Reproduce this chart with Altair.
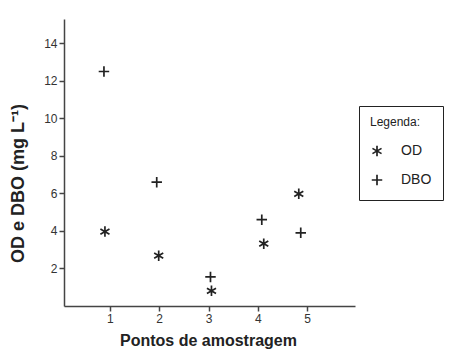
import altair as alt
import pandas as pd

# Data
pontos = [1, 2, 3, 4, 5]
x_od = [0.90, 1.99, 3.06, 4.12, 4.83]
y_od = [3.97, 2.68, 0.81, 3.32, 5.98]
x_dbo = [0.88, 1.95, 3.04, 4.08, 4.87]
y_dbo = [12.5, 6.6, 1.55, 4.6, 3.9]
series = ["OD", "DBO"]
y_ticks = [2, 4, 6, 8, 10, 12, 14]
x_ticks = [1, 2, 3, 4, 5]

rows = []
for xv, yv in zip(x_od, y_od):
    rows.append({"x": xv, "y": yv, "serie": "OD"})
for xv, yv in zip(x_dbo, y_dbo):
    rows.append({"x": xv, "y": yv, "serie": "DBO"})
df = pd.DataFrame(rows)

ASTERISK = "M0,-1L0,1M-0.866,-0.5L0.866,0.5M-0.866,0.5L0.866,-0.5"
PLUS = "M0,-1L0,1M-1,0L1,0"

FONT = "Liberation Sans"

chart = alt.Chart(df).mark_point(filled=False, strokeWidth=1.7, size=110, opacity=1).encode(
    x=alt.X("x:Q", scale=alt.Scale(domain=[0.07, 5.97], nice=False, zero=False),
            axis=alt.Axis(values=x_ticks, title="Pontos de amostragem", format="d",
                          titleX=144, titleY=34, titleBaseline="middle", titleAlign="center")),
    y=alt.Y("y:Q", scale=alt.Scale(domain=[0, 15.3], nice=False),
            axis=alt.Axis(values=y_ticks, title="OD e DBO (mg L⁻¹)", format="d",
                          titleX=-46, titleY=164, titleAngle=270, titleBaseline="middle",
                          titleAlign="center", titleFontSize=18)),
    shape=alt.Shape("serie:N", scale=alt.Scale(domain=series, range=[ASTERISK, PLUS]),
                    legend=alt.Legend(title="Legenda:", orient="none", legendX=295, legendY=87,
                                      strokeColor="#222", padding=11, symbolSize=110,
                                      symbolStrokeWidth=1.7, symbolStrokeColor="#222",
                                      symbolFillColor="transparent",
                                      rowPadding=11, titlePadding=15, labelOffset=17,
                                      offset=0)),
    color=alt.value("#222"),
).properties(
    width=291, height=287,
    autosize=alt.AutoSizeParams(type="none"),
    padding={"left": 64, "top": 19, "right": 105, "bottom": 50},
).configure_view(stroke=None).configure_axis(
    grid=False, domainColor="#444", domainWidth=1.5, tickColor="#444", tickWidth=1.5,
    tickSize=5, labelFont=FONT, labelFontSize=12, labelColor="#333", labelPadding=2,
    titleFont=FONT, titleFontSize=16, titleFontWeight="bold", titleColor="#222",
).configure_legend(
    titleFont=FONT, titleFontSize=12, titleFontWeight="normal", titleColor="#222",
    labelFont=FONT, labelFontSize=14, labelColor="#222",
)

chart.save("out.html", embed_options={"renderer": "svg", "actions": False})
